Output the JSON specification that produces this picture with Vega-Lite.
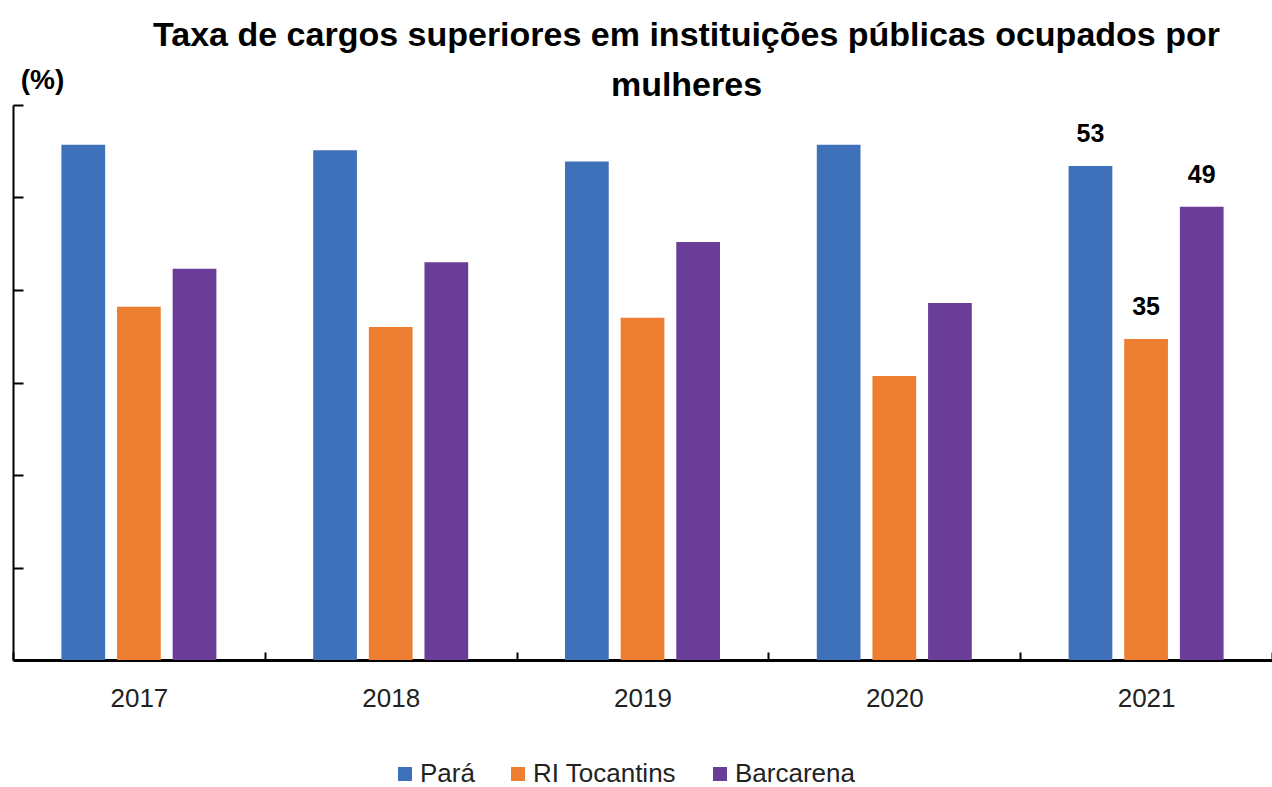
{
  "$schema": "https://vega.github.io/schema/vega-lite/v6.json",
  "width": 1259,
  "height": 555,
  "autosize": {"type": "none"},
  "padding": {"left": 13, "top": 105, "right": 0, "bottom": 127},
  "background": "white",
  "config": {
    "view": {"stroke": null},
    "font": "Liberation Sans"
  },
  "title": {
    "text": ["Taxa de cargos superiores em instituições públicas ocupados por", "mulheres"],
    "font": "Liberation Sans",
    "fontSize": 34,
    "fontWeight": "bold",
    "color": "black",
    "lineHeight": 50,
    "anchor": "middle",
    "dx": 44,
    "offset": -37
  },
  "data": {
    "values": [
      {"ano": "2017", "local": "Pará", "valor": 55.7},
      {"ano": "2017", "local": "RI Tocantins", "valor": 38.2},
      {"ano": "2017", "local": "Barcarena", "valor": 42.3},
      {"ano": "2018", "local": "Pará", "valor": 55.1},
      {"ano": "2018", "local": "RI Tocantins", "valor": 36.0},
      {"ano": "2018", "local": "Barcarena", "valor": 43.0},
      {"ano": "2019", "local": "Pará", "valor": 53.9},
      {"ano": "2019", "local": "RI Tocantins", "valor": 37.0},
      {"ano": "2019", "local": "Barcarena", "valor": 45.2},
      {"ano": "2020", "local": "Pará", "valor": 55.7},
      {"ano": "2020", "local": "RI Tocantins", "valor": 30.7},
      {"ano": "2020", "local": "Barcarena", "valor": 38.6},
      {"ano": "2021", "local": "Pará", "valor": 53.4},
      {"ano": "2021", "local": "RI Tocantins", "valor": 34.7},
      {"ano": "2021", "local": "Barcarena", "valor": 49.0}
    ]
  },
  "encoding": {
    "x": {
      "field": "ano",
      "type": "nominal",
      "scale": {"paddingInner": 0, "paddingOuter": 0},
      "axis": {
        "title": null,
        "labelAngle": 0,
        "labelFontSize": 26,
        "labelColor": "#222222",
        "labelFont": "Liberation Sans",
        "labelPadding": 33,
        "domainColor": "black",
        "domainWidth": 3,
        "tickBand": "extent",
        "tickColor": "black",
        "tickWidth": 2,
        "tickSize": -8
      }
    },
    "xOffset": {
      "field": "local",
      "type": "nominal",
      "sort": ["Pará", "RI Tocantins", "Barcarena"],
      "scale": {"paddingInner": 0.214, "paddingOuter": 0.87}
    },
    "y": {
      "field": "valor",
      "type": "quantitative",
      "scale": {"domain": [0, 60]},
      "axis": {
        "title": "(%)",
        "titleAngle": 0,
        "titleX": 29,
        "titleY": -17,
        "titleAlign": "center",
        "titleBaseline": "alphabetic",
        "titleFont": "Liberation Sans",
        "titleFontSize": 28,
        "titleFontWeight": "bold",
        "titleColor": "black",
        "values": [0, 10, 20, 30, 40, 50, 60],
        "labels": false,
        "grid": false,
        "domainColor": "black",
        "domainWidth": 2,
        "tickColor": "black",
        "tickWidth": 2,
        "tickSize": -10
      }
    }
  },
  "layer": [
    {
      "mark": {"type": "bar"},
      "encoding": {
        "color": {
          "field": "local",
          "type": "nominal",
          "sort": ["Pará", "RI Tocantins", "Barcarena"],
          "scale": {
            "domain": ["Pará", "RI Tocantins", "Barcarena"],
            "range": ["#3F70BA", "#ED7D31", "#6A3E98"]
          },
          "legend": {
            "title": null,
            "orient": "none",
            "direction": "horizontal",
            "legendX": 379,
            "legendY": 656,
            "symbolType": "square",
            "symbolSize": 196,
            "symbolStrokeWidth": 0,
            "labelFont": "Liberation Sans",
            "labelFontSize": 26,
            "labelColor": "#222222",
            "columnPadding": 30,
            "labelOffset": 2
          }
        }
      }
    },
    {
      "transform": [{"filter": "datum.ano == '2021'"}],
      "mark": {
        "type": "text",
        "baseline": "alphabetic",
        "dy": -24,
        "font": "Liberation Sans",
        "fontSize": 25,
        "fontWeight": "bold",
        "color": "black"
      },
      "encoding": {
        "text": {"field": "valor", "type": "quantitative", "format": ".0f"}
      }
    }
  ]
}
